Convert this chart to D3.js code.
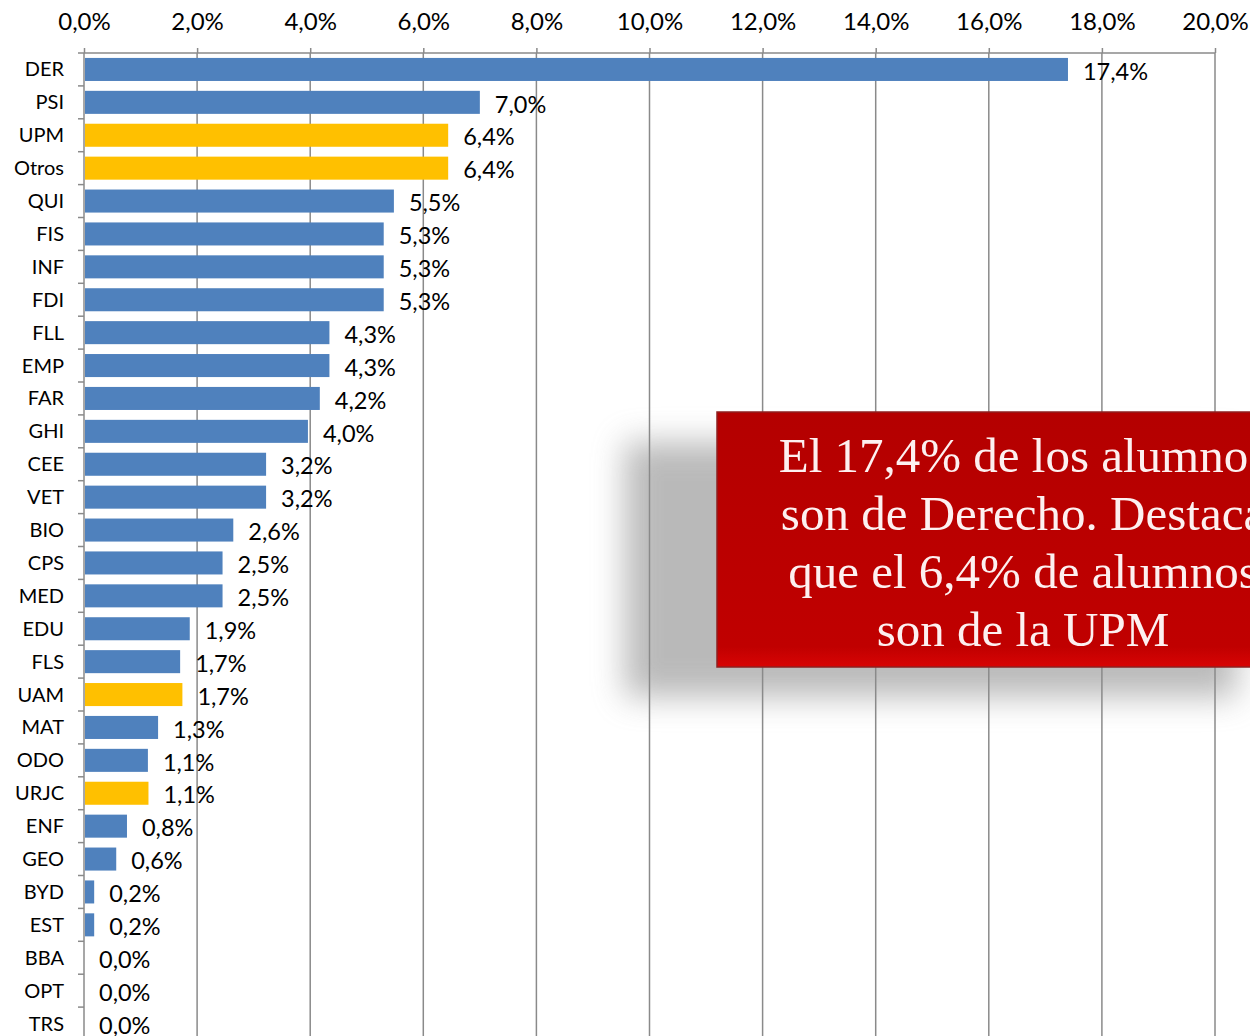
<!DOCTYPE html>
<html>
<head>
<meta charset="utf-8">
<script src="https://cdn.jsdelivr.net/npm/d3@7"></script>
<style>
  html, body { margin: 0; padding: 0; background: #fff; overflow: hidden; }
  svg { display: block; }
</style>
</head>
<body>
<div id="chart"></div>
<script>
// horizontal bar chart: share of students by faculty / origin

const categories = ["DER", "PSI", "UPM", "Otros", "QUI", "FIS", "INF", "FDI", "FLL", "EMP",
  "FAR", "GHI", "CEE", "VET", "BIO", "CPS", "MED", "EDU", "FLS", "UAM",
  "MAT", "ODO", "URJC", "ENF", "GEO", "BYD", "EST", "BBA", "OPT", "TRS"];
const values = [17.4, 7.0, 6.44, 6.44, 5.48, 5.3, 5.3, 5.3, 4.34, 4.34,
  4.17, 3.96, 3.22, 3.22, 2.64, 2.45, 2.45, 1.87, 1.7, 1.74,
  1.31, 1.13, 1.14, 0.76, 0.57, 0.18, 0.18, 0, 0, 0];
const highlighted = ["UPM", "Otros", "UAM", "URJC"];
const xTicks = [0, 2, 4, 6, 8, 10, 12, 14, 16, 18, 20];
const noteLines = ["El 17,4% de los alumnos", "son de Derecho. Destaca",
  "que el 6,4% de alumnos", "son de la UPM"];

const width = 1250;
const height = 1036;
const marginTop = 53;
const marginLeft = 84;
const plotRight = 1215;
const sans = "Lato, 'Liberation Sans', sans-serif";

const es = d3.formatLocale({decimal: ",", thousands: ".", grouping: [3], currency: ["", " €"]});
const pct = es.format(".1f");

const svg = d3.select("#chart").append("svg")
    .attr("width", width)
    .attr("height", height)
    .attr("viewBox", [0, 0, width, height]);

const x = d3.scaleLinear()
    .domain([0, 20])
    .range([marginLeft, plotRight]);

const y = d3.scaleBand()
    .domain(categories)
    .range([marginTop, marginTop + 30 * 32.9])
    .paddingInner(0.3)
    .paddingOuter(0.15);

const gridColor = "#8a8a8a";

// soft shadow of the callout sits under the grid
const defs = svg.append("defs");
defs.append("filter")
    .attr("id", "blur")
    .attr("x", "-30%").attr("y", "-30%").attr("width", "160%").attr("height", "160%")
  .append("feGaussianBlur")
    .attr("stdDeviation", 16);
const grad = defs.append("linearGradient")
    .attr("id", "redfill").attr("x1", 0).attr("y1", 0).attr("x2", 0).attr("y2", 1);
grad.append("stop").attr("offset", "0%").attr("stop-color", "#b40000");
grad.append("stop").attr("offset", "92%").attr("stop-color", "#c00000");
grad.append("stop").attr("offset", "100%").attr("stop-color", "#d80404");

const box = {x: 717, y: 412, w: 612, h: 255};
svg.append("rect")
    .attr("x", box.x - 92).attr("y", box.y + 30)
    .attr("width", box.w).attr("height", box.h)
    .attr("fill", "#8c8c8c")
    .attr("opacity", 0.6)
    .attr("filter", "url(#blur)");

// vertical gridlines
svg.append("g")
  .selectAll("line")
  .data(xTicks.slice(1))
  .join("line")
    .attr("x1", d => x(d))
    .attr("x2", d => x(d))
    .attr("y1", marginTop)
    .attr("y2", height)
    .attr("stroke", gridColor)
    .attr("stroke-width", 1.5);

// top axis
svg.append("g")
    .attr("transform", `translate(0,${marginTop})`)
    .call(d3.axisTop(x).tickValues(xTicks).tickSize(5).tickPadding(18)
      .tickFormat(d => pct(d) + "%"))
    .call(g => g.select(".domain").attr("d", `M${x(0)},0H${x(20)}`)
      .attr("stroke", gridColor).attr("stroke-width", 1.5))
    .call(g => g.selectAll(".tick line").attr("stroke", gridColor).attr("stroke-width", 1.5))
    .call(g => g.selectAll(".tick text")
      .attr("font-family", sans)
      .attr("font-size", 24)
      .attr("fill", "#000"));

// left axis with ticks between categories
const step = y.step();
const bounds = categories.map(c => y(c) - step * y.paddingInner() / 2);
const left = svg.append("g");
left.append("line")
    .attr("x1", marginLeft).attr("x2", marginLeft)
    .attr("y1", marginTop).attr("y2", height)
    .attr("stroke", gridColor).attr("stroke-width", 1.5);
left.selectAll(".tk")
  .data(bounds)
  .join("line")
    .attr("class", "tk")
    .attr("x1", marginLeft - 6).attr("x2", marginLeft)
    .attr("y1", d => d).attr("y2", d => d)
    .attr("stroke", gridColor).attr("stroke-width", 1.5);
left.selectAll("text")
  .data(categories)
  .join("text")
    .attr("x", marginLeft - 20)
    .attr("y", d => y(d) + y.bandwidth() / 2)
    .attr("dy", "0.35em")
    .attr("text-anchor", "end")
    .attr("font-family", sans)
    .attr("font-size", 20)
    .attr("fill", "#000")
    .text(d => d);

// bars
svg.append("g")
  .selectAll("rect")
  .data(categories)
  .join("rect")
    .attr("x", x(0) + 1)
    .attr("y", d => y(d))
    .attr("width", (d, i) => Math.max(0, x(values[i]) - x(0) - 1))
    .attr("height", y.bandwidth())
    .attr("fill", d => highlighted.includes(d) ? "#ffc000" : "#4f81bd");

// value labels
svg.append("g")
  .selectAll("text")
  .data(categories)
  .join("text")
    .attr("x", (d, i) => x(values[i]) + 15)
    .attr("y", d => y(d) + y.bandwidth() / 2 + 2)
    .attr("dy", "0.35em")
    .attr("font-family", sans)
    .attr("font-size", 23.5)
    .attr("fill", "#000")
    .text((d, i) => pct(values[i]) + "%");

// callout box
svg.append("rect")
    .attr("x", box.x).attr("y", box.y)
    .attr("width", box.w).attr("height", box.h)
    .attr("fill", "url(#redfill)")
    .attr("stroke", "#8e2020")
    .attr("stroke-width", 1.5);
svg.append("g")
  .selectAll("text")
  .data(noteLines)
  .join("text")
    .attr("x", box.x + box.w / 2)
    .attr("y", (d, i) => 472 + i * 58)
    .attr("text-anchor", "middle")
    .attr("font-family", "'Liberation Serif', 'DejaVu Serif', serif")
    .attr("font-size", 49)
    .attr("fill", "#fdf0f0")
    .text(d => d);
</script>
</body>
</html>
